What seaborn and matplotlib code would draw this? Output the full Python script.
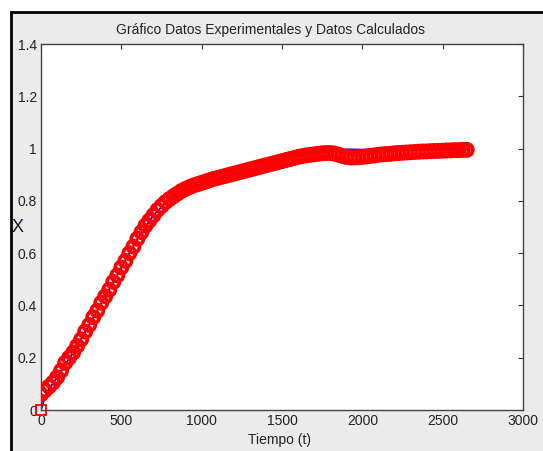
import numpy as np
import pandas as pd
import matplotlib
matplotlib.use("Agg")
import matplotlib.pyplot as plt
from matplotlib.patches import Rectangle
import seaborn as sns

# Experimental conversion X versus time
t_exp = [0, 25, 50, 75, 100, 125, 150, 175, 200, 225, 250, 275, 300, 325, 350,
         375, 400, 425, 450, 475, 500, 525, 550, 575, 600, 625, 650, 675, 700,
         725, 750, 775, 800, 825, 850, 875, 900, 925, 950, 975, 1000, 1025, 1050,
         1075, 1100, 1125, 1150, 1175, 1200, 1225, 1250, 1275, 1300, 1325, 1350,
         1375, 1400, 1425, 1450, 1475, 1500, 1525, 1550, 1575, 1600, 1625, 1650,
         1675, 1700, 1725, 1750, 1775, 1800, 1825, 1850, 1875, 1900, 1925, 1950,
         1975, 2000, 2025, 2050, 2075, 2100, 2125, 2150, 2175, 2200, 2225, 2250,
         2275, 2300, 2325, 2350, 2375, 2400, 2425, 2450, 2475, 2500, 2525, 2550,
         2575, 2600, 2625, 2650]
x_exp = [0.060, 0.075, 0.090, 0.105, 0.125, 0.150, 0.180, 0.200, 0.220, 0.245,
         0.270, 0.300, 0.325, 0.355, 0.380, 0.410, 0.435, 0.460, 0.490, 0.515,
         0.545, 0.570, 0.600, 0.625, 0.655, 0.680, 0.705, 0.725, 0.745, 0.765,
         0.780, 0.795, 0.807, 0.818, 0.828, 0.838, 0.846, 0.853, 0.859, 0.864,
         0.869, 0.874, 0.879, 0.884, 0.888, 0.892, 0.896, 0.900, 0.904, 0.908,
         0.912, 0.916, 0.920, 0.924, 0.928, 0.932, 0.936, 0.940, 0.944, 0.948,
         0.952, 0.956, 0.960, 0.964, 0.968, 0.971, 0.974, 0.976, 0.978, 0.980,
         0.982, 0.983, 0.983, 0.981, 0.977, 0.972, 0.968, 0.966, 0.966, 0.967,
         0.968, 0.970, 0.972, 0.974, 0.976, 0.978, 0.979, 0.980, 0.982, 0.983,
         0.984, 0.985, 0.986, 0.987, 0.988, 0.989, 0.989, 0.990, 0.991, 0.991,
         0.992, 0.993, 0.993, 0.994, 0.994, 0.995, 0.995]

# Model (calculated) conversion
t_calc = [0, 25, 50, 100, 200, 300, 400, 500, 600, 700, 800, 900, 1000, 1200,
          1400, 1600, 1800, 1900, 2000, 2200, 2400, 2650]
x_calc = [0.000, 0.050, 0.080, 0.125, 0.220, 0.325, 0.435, 0.545, 0.655, 0.745,
          0.807, 0.846, 0.869, 0.904, 0.936, 0.970, 0.990, 0.997, 0.996, 0.995,
          0.995, 0.996]

x_ticks = [0, 500, 1000, 1500, 2000, 2500, 3000]
y_ticks = [0, 0.2, 0.4, 0.6, 0.8, 1, 1.2, 1.4]
y_tick_labels = ["0", "0.2", "0.4", "0.6", "0.8", "1", "1.2", "1.4"]

sns.set_style("white")
plt.rcParams["font.family"] = ["Liberation Sans", "DejaVu Sans"]

W, H = 543, 451
fig = plt.figure(figsize=(W / 100, H / 100), dpi=100, facecolor="white")

# Window panel: light grey with dark frame on top/left
fig.patches.append(Rectangle((10.5 / W, -0.05), 1.2, (H - 12) / H + 0.05,
                             transform=fig.transFigure, facecolor="#ebebeb",
                             edgecolor="black", linewidth=2, zorder=-5))

ax = fig.add_axes([41 / W, (H - 410) / H, (523 - 41) / W, (410 - 44) / H])
ax.set_zorder(2)
ax.set_facecolor("white")

calc = pd.DataFrame({"t": t_calc, "X": x_calc})
exp = pd.DataFrame({"t": t_exp, "X": x_exp})

sns.lineplot(data=calc, x="t", y="X", ax=ax, color="blue", linewidth=1.3,
             zorder=2)
ax.plot(t_calc[:1], x_calc[:1], linestyle="none", marker="s", markersize=7,
        markerfacecolor="none", markeredgecolor="red", markeredgewidth=1.3,
        zorder=4, clip_on=False)
sns.scatterplot(data=exp, x="t", y="X", ax=ax, marker="o", s=78,
                color="none", edgecolor="red", linewidth=2.6, zorder=3)

ax.set_xlim(0, 3000)
ax.set_ylim(0, 1.4)
ax.set_xticks(x_ticks)
ax.set_yticks(y_ticks)
ax.set_yticklabels(y_tick_labels)
ax.tick_params(direction="in", length=3.5, width=0.8, colors="#333333",
               labelcolor="#222222", labelsize=10, top=True, right=True,
               pad=3)
for s in ax.spines.values():
    s.set_color("#444444")
    s.set_linewidth(1.0)

ax.set_xlabel("")
ax.set_ylabel("")
fig.text(280 / W, 1 - 440 / H, "Tiempo (t)", ha="center", va="center",
         fontsize=10, color="#222222")
fig.text(18 / W, 1 - 228 / H, "X", ha="center", va="center",
         fontsize=13, color="#111133")
fig.text(271 / W, 1 - 30 / H,
         "Gráfico Datos Experimentales y Datos Calculados",
         ha="center", va="center", fontsize=10, color="#222222")

fig.savefig("out.png", dpi=100, facecolor=fig.get_facecolor())
